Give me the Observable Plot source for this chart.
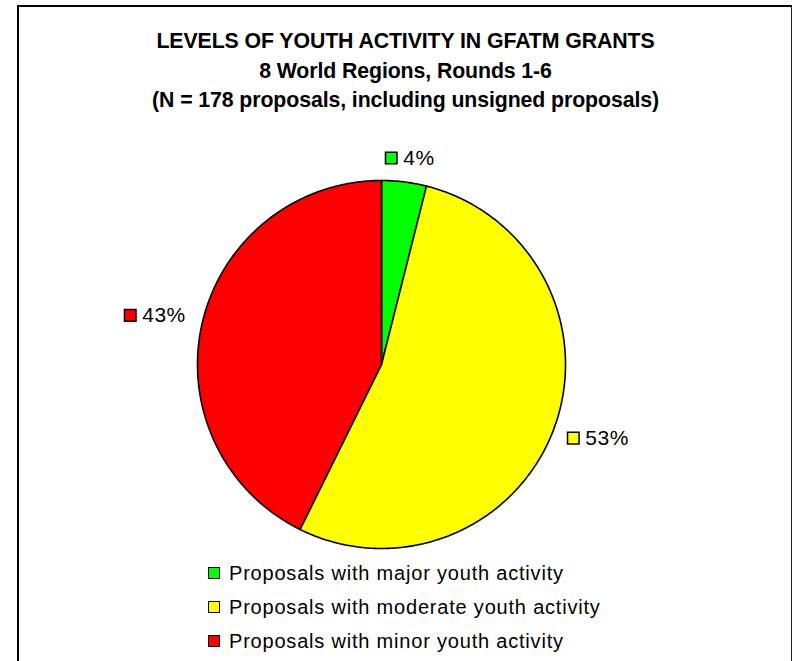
<!DOCTYPE html>
<html>
<head>
<meta charset="utf-8">
<script src="https://cdn.jsdelivr.net/npm/d3@7"></script>
<script src="https://cdn.jsdelivr.net/npm/@observablehq/plot@0.6"></script>
<style>
  html, body { margin: 0; padding: 0; background: #fff; }
  body { width: 796px; height: 661px; position: relative; overflow: hidden; font-family: "Liberation Sans", Arial, sans-serif; }
  #frame { position: absolute; left: 17px; top: 5px; width: 775px; height: 700px; border-left: 2px solid #000; border-top: 2px solid #000; border-right: 1px solid #222; box-sizing: border-box; }
  #title { position: absolute; left: 18px; width: 775px; top: 27px; text-align: center; font-weight: bold; font-size: 21.3px; line-height: 29.5px; color: #000; letter-spacing: -0.1px; }
  #chart { position: absolute; left: 0; top: 0; }
  #legend { position: absolute; left: 208px; top: 0; font-size: 20px; letter-spacing: 0.8px; color: #000; }
  .row { position: absolute; left: 0; white-space: nowrap; display: flex; align-items: center; height: 20px; }
  .sw { width: 12px; height: 12px; box-sizing: border-box; border: 1.5px solid #000; margin-right: 9px; }
</style>
</head>
<body>
<div id="frame"></div>
<div id="title">LEVELS OF YOUTH ACTIVITY IN GFATM GRANTS<br>8 World Regions, Rounds 1-6<br>(N = 178 proposals, including unsigned proposals)</div>
<div id="chart"></div>
<div id="legend"></div>
<script>
// ---- data ----
const categories = ["Proposals with major youth activity", "Proposals with moderate youth activity", "Proposals with minor youth activity"];
const counts = [7, 95, 76]; // N = 178
const percentLabels = ["4%", "53%", "43%"];
const colors = ["#00FF00", "#FFFF00", "#FF0000"];

// ---- layout ----
const W = 796, H = 661;
const cx = 381, cy = 364, R = 184;
const labelFont = 21, labelLS = 0.5;

const arcs = d3.pie().sort(null).value(d => d)(counts);

// slice polygons in unit coordinates (angle 0 at 12 o'clock, clockwise)
const slicePts = [];
arcs.forEach((a, i) => {
  slicePts.push({k: i, x: 0, y: 0, c: colors[i]});
  const n = Math.max(2, Math.ceil((a.endAngle - a.startAngle) / (Math.PI / 360)));
  for (let j = 0; j <= n; j++) {
    const t = a.startAngle + (a.endAngle - a.startAngle) * j / n;
    slicePts.push({k: i, x: Math.sin(t), y: Math.cos(t), c: colors[i]});
  }
});

// outside labels
const charW = ch => (ch === "%" ? 0.889 : 0.556);
const labelData = arcs.map((a, i) => {
  const m = (a.startAngle + a.endAngle) / 2;
  const s = Math.sin(m);
  const rr = (R + (s < 0 ? 17 : 14)) / R;
  const px = Math.sin(m) * rr, py = Math.cos(m) * rr;
  const tw = [...percentLabels[i]].reduce((acc, ch) => acc + charW(ch) * labelFont + labelLS, 0);
  const gw = (12 + 6 + tw) / R;
  let left, yy;
  if (s > 0.3) { left = px; yy = py + Math.cos(m) * 15 / R; }
  else if (s < -0.3) { left = px - gw; yy = py + Math.cos(m) * 15 / R; }
  else { left = px - gw / 2 + 4 / R; yy = py + (Math.cos(m) > 0 ? 10 / R : -10 / R); }
  return {i, boxX: left + 6 / R, textX: left + 18 / R, y: yy, label: percentLabels[i], c: colors[i]};
});

const plot = Plot.plot({
  width: W,
  height: H,
  margin: 0,
  x: {domain: [-1, 1], range: [cx - R, cx + R], axis: null},
  y: {domain: [-1, 1], range: [cy + R, cy - R], axis: null},
  color: {type: "identity"},
  style: {background: "transparent", overflow: "visible"},
  marks: [
    Plot.line(slicePts, {x: "x", y: "y", z: "k", fill: "c", stroke: "#000", strokeWidth: 1.6, curve: "linear-closed", strokeLinejoin: "round"}),
    Plot.dot(labelData, {x: "boxX", y: "y", symbol: "square", r: 6.5, fill: "c", stroke: "#000", strokeWidth: 1.5}),
    Plot.text(labelData, {x: "textX", y: "y", text: "label", textAnchor: "start", fontSize: labelFont, fill: "#000", fontFamily: "Liberation Sans, Arial, sans-serif"})
  ]
});
plot.querySelectorAll("text").forEach(t => t.setAttribute("letter-spacing", labelLS));
document.getElementById("chart").appendChild(plot);

// legend
const legend = document.getElementById("legend");
const rowY = [573, 607, 641];
categories.forEach((c, i) => {
  const row = document.createElement("div");
  row.className = "row";
  row.style.top = (rowY[i] - 10) + "px";
  const sw = document.createElement("div");
  sw.className = "sw";
  sw.style.background = colors[i];
  const tx = document.createElement("span");
  tx.textContent = c;
  row.appendChild(sw);
  row.appendChild(tx);
  legend.appendChild(row);
});
</script>
</body>
</html>
